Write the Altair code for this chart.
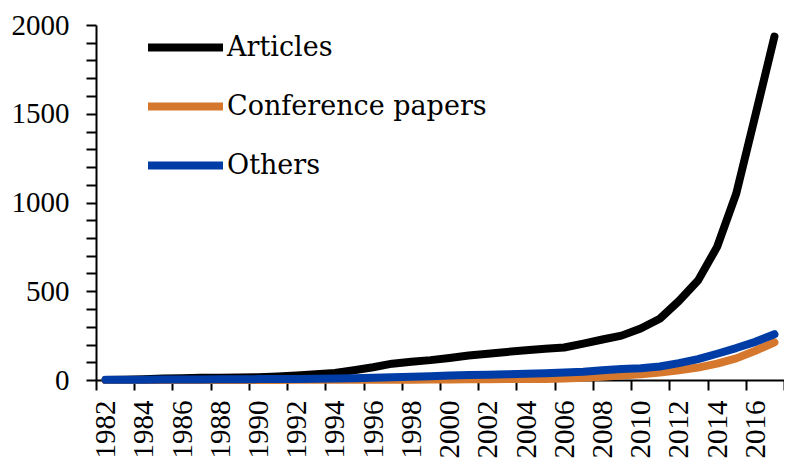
import altair as alt
import pandas as pd

years = [1982, 1983, 1984, 1985, 1986, 1987, 1988, 1989, 1990, 1991, 1992, 1993,
         1994, 1995, 1996, 1997, 1998, 1999, 2000, 2001, 2002, 2003, 2004, 2005,
         2006, 2007, 2008, 2009, 2010, 2011, 2012, 2013, 2014, 2015, 2016, 2017]
articles = [0, 2, 4, 8, 10, 12, 13, 14, 16, 20, 25, 32, 40, 55, 72, 92, 103, 112,
            124, 138, 148, 158, 168, 176, 183, 205, 228, 250, 290, 345, 445, 560,
            750, 1050, 1490, 1935]
conference = [0, 0, 0, 0, 0, 0, 0, 0, 0, 0, 1, 1, 1, 1, 2, 2, 2, 3, 3, 4, 4, 5,
              5, 6, 8, 12, 18, 25, 32, 42, 55, 70, 92, 122, 165, 212]
others = [2, 2, 2, 3, 3, 3, 4, 4, 5, 5, 6, 7, 8, 10, 13, 16, 18, 21, 25, 28, 30,
          32, 35, 38, 42, 47, 55, 62, 66, 76, 95, 118, 148, 180, 215, 258]
series_names = ["Articles", "Conference papers", "Others"]
series_colors = ["#000000", "#D5772C", "#003CA6"]
x_tick_values = [1981.5, 1983.5, 1985.5, 1987.5, 1989.5, 1991.5, 1993.5, 1995.5,
                 1997.5, 1999.5, 2001.5, 2003.5, 2005.5, 2007.5, 2009.5, 2011.5,
                 2013.5, 2015.5, 2017.5]
y_tick_values = [0, 100, 200, 300, 400, 500, 600, 700, 800, 900, 1000, 1100, 1200,
                 1300, 1400, 1500, 1600, 1700, 1800, 1900, 2000]

rows = []
for name, vals in zip(series_names, [articles, conference, others]):
    for yr, v in zip(years, vals):
        rows.append({"year": yr, "value": v, "series": name})
df = pd.DataFrame(rows)

W = 688
H = 355
cat_w = W / 36.0

chart = alt.Chart(df).mark_line(
    strokeWidth=8, strokeCap="round", strokeJoin="round"
).encode(
    x=alt.X("year:Q",
            scale=alt.Scale(domain=[1981.5, 2017.5], nice=False, zero=False),
            axis=alt.Axis(values=x_tick_values, title=None, grid=False,
                          labelExpr="datum.value > 2017 ? '' : '' + (datum.value + 0.5)",
                          labelOffset=cat_w / 2, labelAngle=-90,
                          labelFlush=False, labelOverlap=False,
                          labelPadding=10, tickSize=10, tickWidth=2,
                          tickColor="black", domainColor="black", domainWidth=2,
                          labelFont="Liberation Serif", labelFontSize=29,
                          labelColor="black")),
    y=alt.Y("value:Q",
            scale=alt.Scale(domain=[0, 2000], nice=False),
            axis=alt.Axis(values=y_tick_values, title=None, grid=False,
                          labelExpr="datum.value % 500 == 0 ? '' + datum.value : ''",
                          labelPadding=17, tickSize=10, tickWidth=2,
                          tickColor="black", domainColor="black", domainWidth=2,
                          labelFont="Liberation Serif", labelFontSize=29,
                          labelColor="black", labelOverlap=False)),
    color=alt.Color("series:N",
                    scale=alt.Scale(domain=series_names, range=series_colors),
                    legend=alt.Legend(title=None, orient="none", legendX=48,
                                      legendY=-19, symbolType="stroke",
                                      symbolSize=5625, symbolStrokeWidth=8,
                                      labelFont="DejaVu Serif", labelFontSize=27,
                                      labelColor="black", labelOffset=0,
                                      rowPadding=1, padding=0,
                                      labelLimit=400)),
).properties(
    width=W, height=H,
    autosize=alt.AutoSizeParams(type="none"),
    padding={"left": 88, "top": 17, "right": 0, "bottom": 82},
).configure_view(stroke=None)

chart.save("out.html", embed_options={"renderer": "svg", "actions": False})
